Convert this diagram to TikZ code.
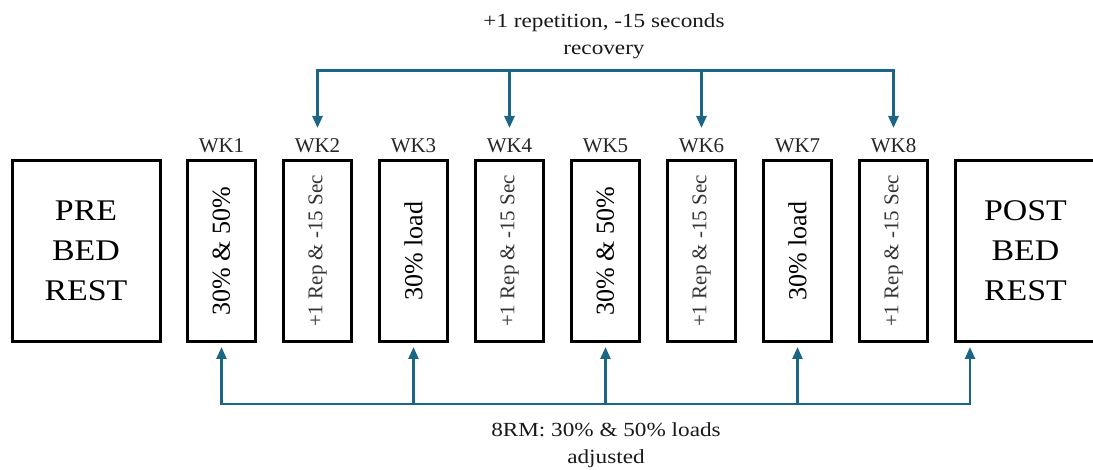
\documentclass[tikz,border=0pt]{standalone}
\usepackage{fontspec}
\setmainfont{Liberation Serif}
\newfontfamily\notefont[FakeStretch=1.16]{Liberation Serif}
\newfontfamily\phasefont[FakeStretch=1.13]{Liberation Serif}
\usetikzlibrary{arrows.meta,calc}
\definecolor{flowblue}{HTML}{1B6587}
\begin{document}
\begin{tikzpicture}[x=1pt,y=-1pt,
  box/.style={draw=black,line width=3pt,minimum height=181pt,inner sep=0pt},
  weekbox/.style={box,minimum width=68pt},
  endbox/.style={box,align=center,font=\phasefont\fontsize{30}{40}\selectfont},
  weeklbl/.style={font=\fontsize{21}{24}\selectfont,anchor=base,text=black!85},
  bigtxt/.style={rotate=90,inner sep=0pt,font=\fontsize{26}{30}\selectfont},
  smalltxt/.style={rotate=90,inner sep=0pt,font=\fontsize{21}{24}\selectfont,text=black!80},
  note/.style={align=center,font=\notefont\fontsize{20}{26.5}\selectfont,text=black!90},
  link/.style={draw=flowblue,line width=2.5pt},
  tipend/.style={-{Triangle[width=10pt,length=12pt]}},
  tipboth/.style={{Triangle[width=10pt,length=12pt]}-{Triangle[width=10pt,length=12pt]}}
]
\useasboundingbox (0,0) rectangle (1093,470);
\clip (0,0) rectangle (1093,470);

% start and end of the bed-rest period
\node[endbox,minimum width=148pt] (pre) at (86,251) {PRE\\BED\\REST};
\node[endbox,minimum width=140pt] (post) at (1025.5,251) {POST\\BED\\REST};

% weekly training blocks
\foreach \k/\txt/\sty in {1/30\% \& 50\%/bigtxt, 2/+1 Rep \& -15 Sec/smalltxt,
                          3/30\% load/bigtxt,    4/+1 Rep \& -15 Sec/smalltxt,
                          5/30\% \& 50\%/bigtxt, 6/+1 Rep \& -15 Sec/smalltxt,
                          7/30\% load/bigtxt,    8/+1 Rep \& -15 Sec/smalltxt}{
  \node[weekbox] (w\k) at ({221.5+96*(\k-1)},251) {};
  \node[\sty] (w\k t) at (w\k.center) {\txt};
  \node[weeklbl] (l\k) at ({221.5+96*(\k-1)},153) {WK\k};
}

% progression applied in the even weeks
\node[note] (topnote) at (604,36) {+1 repetition, -15 seconds\\recovery};
\foreach \k in {2,4,6,8}{
  \coordinate (t\k) at (w\k |- 0,70.7);
  \coordinate (e\k) at (w\k |- 0,128);
}
\draw[link,tipboth] (e2) -- (t2) -- (t8) -- (e8);
\draw[link,tipend] (t4) -- (e4);
\draw[link,tipend] (t6) -- (e6);

% load testing in the odd weeks and after bed rest
\node[note] (botnote) at (606,445) {8RM: 30\% \& 50\% loads\\adjusted};
\foreach \k in {1,3,5,7}{
  \coordinate (b\k) at (w\k |- 0,404);
  \coordinate (f\k) at (w\k |- 0,347);
}
\coordinate (bp) at (970,404);
\coordinate (fp) at (970,347);
\draw[link,tipboth] (f1) -- (b1) -- (bp) -- (fp);
\draw[link,tipend] (b3) -- (f3);
\draw[link,tipend] (b5) -- (f5);
\draw[link,tipend] (b7) -- (f7);
\end{tikzpicture}
\end{document}
